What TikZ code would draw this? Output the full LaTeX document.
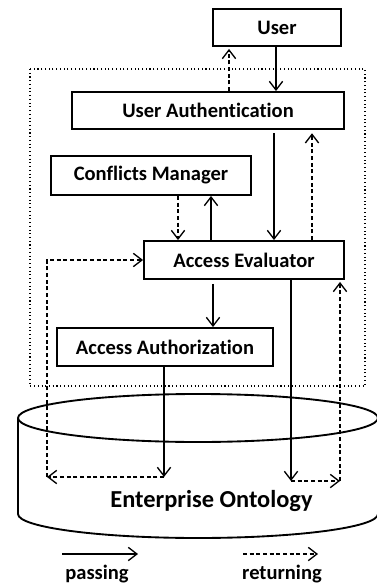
\documentclass[tikz,border=0pt]{standalone}
\usepackage{fontspec}
\setmainfont{Carlito}[Ligatures=NoCommon]
\usetikzlibrary{arrows.meta}
\begin{document}
\begin{tikzpicture}[x=0.75pt,y=-0.75pt,
  box/.style={draw,line width=1.4pt,inner sep=0pt,font=\fontsize{15.4}{18}\selectfont\bfseries},
  tip/.style={-{Straight Barb[length=6.5pt,width=10pt,line width=1pt]}},
  pass/.style={line width=1.1pt,tip},
  ret/.style={line width=1.1pt,dash pattern=on 3pt off 2pt,tip},
  lbl/.style={inner sep=0pt,anchor=base,font=\fontsize{15.4}{18}\selectfont\bfseries}]
\useasboundingbox (0,0) rectangle (376,584);
% dotted frame
\draw[line width=0.8pt,dotted] (30,69) rectangle (365,386);
% cylinder
\draw[line width=1.4pt] (18,418) -- (18,514) arc[start angle=180,end angle=0,x radius=180,y radius=24] -- (378,418);
\draw[line width=1.4pt] (198,418) ellipse [x radius=180,y radius=24];
\node[lbl,font=\fontsize{18.3}{22}\selectfont\bfseries] (eo) at (211.5,507) {Enterprise Ontology};
% boxes
\node[box,minimum width=96pt,minimum height=27.75pt] (user) at (277,27.5) {User};
\node[box,minimum width=204pt,minimum height=27.75pt] (ua) at (208,110.5) {User Authentication};
\node[box,minimum width=150pt,minimum height=29.25pt] (cm) at (151,175.5) {Conflicts Manager};
\node[box,minimum width=150pt,minimum height=28.5pt] (ae) at (244,260) {Access Evaluator};
\node[box,minimum width=162pt,minimum height=28.5pt] (aa) at (165,347) {Access Authorization};
% coordinates
\coordinate (a1) at (164,477);
\coordinate (l1) at (47,477);
\coordinate (r1) at (291,481);
\coordinate (r2) at (340,481);
% connectors
\draw[pass] (user.south -| 276,0) -- (ua.north -| 276,0);
\draw[ret,shorten >=1.5pt] (ua.north -| 229,0) -- (user.south -| 229,0);
\draw[pass,shorten <=2.5pt] (ua.south -| 274,0) -- (ae.north -| 274,0);
\draw[ret,shorten >=2.5pt] (ae.north -| 312,0) -- (ua.south -| 312,0);
\draw[ret] (cm.south -| 178,0) -- (ae.north -| 178,0);
\draw[pass] (ae.north -| 211,0) -- (cm.south -| 211,0);
\draw[pass,shorten <=3pt] (ae.south -| 213,0) -- (aa.north -| 213,0);
\draw[pass] (aa.south -| a1) -- (a1);
\draw[ret] (a1) -- (l1);
\draw[ret] (l1) |- (ae.west);
\draw[pass] (ae.south -| r1) -- (r1);
\draw[ret] (r1) -- (r2);
\draw[ret,shorten >=1.5pt] (r2) -- (ae.south -| r2);
% legend
\coordinate (p1) at (62,554);
\coordinate (p2) at (138,554);
\coordinate (q1) at (243,554);
\coordinate (q2) at (318,554);
\draw[pass] (p1) -- (p2);
\draw[ret] (q1) -- (q2);
\node[lbl] (passing) at (97,579) {passing};
\node[lbl] (returning) at (282,579) {returning};
\end{tikzpicture}
\end{document}
